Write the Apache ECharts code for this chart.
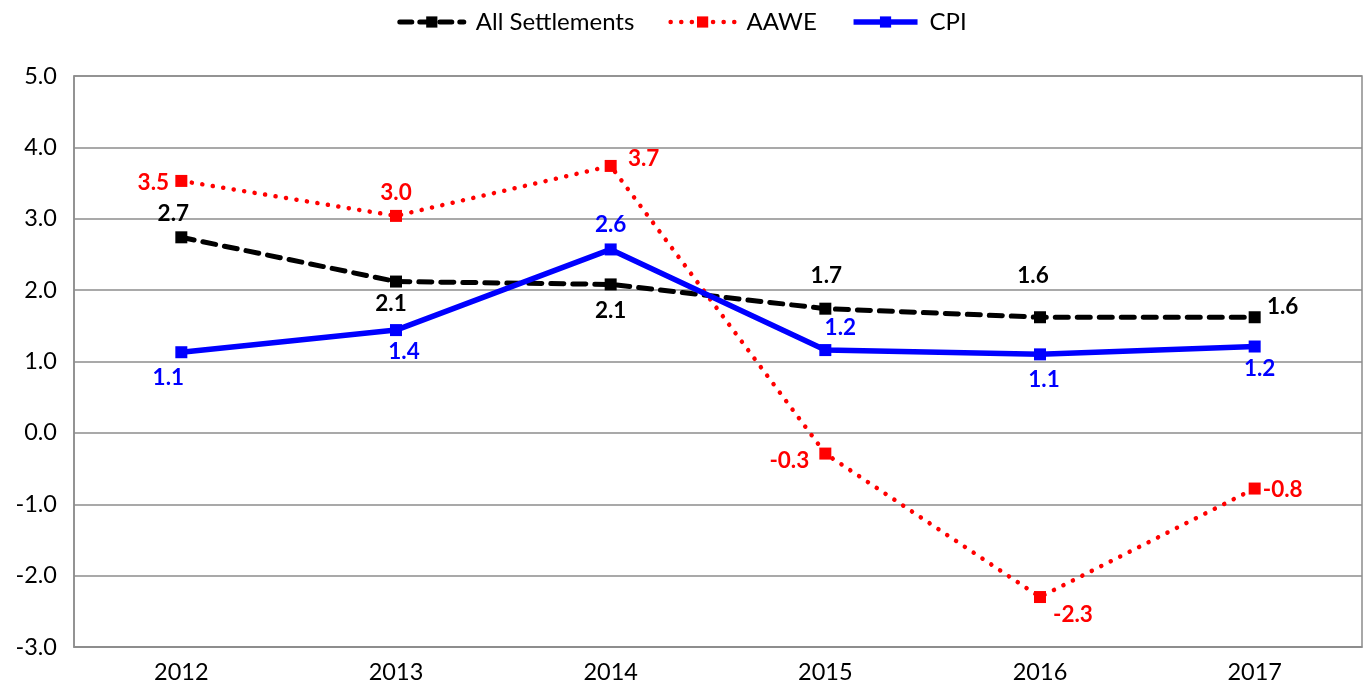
<!DOCTYPE html>
<html><head><meta charset="utf-8">
<script src="https://cdn.jsdelivr.net/npm/echarts@6/dist/echarts.min.js"></script>
<style>html,body{margin:0;padding:0;background:#fff}#c{width:1364px;height:691px}</style>
</head><body><div id="c"></div>
<script>
const categories = ['2012','2013','2014','2015','2016','2017'];
const allSettlements = [2.74, 2.12, 2.08, 1.74, 1.62, 1.62];
const aawe = [3.53, 3.04, 3.74, -0.29, -2.30, -0.78];
const cpi = [1.13, 1.44, 2.57, 1.16, 1.10, 1.21];
const yTicks = {min: -3, max: 5, interval: 1};

// label offsets (px) relative to each point
const allOff = [[-8,-24],[-5,22],[0,26],[1,-33],[-7,-41],[28,-10]];
const aaweOff = [[-28,2],[0,-23],[33,-7],[-36,7],[33,18],[28,1]];
const cpiOff = [[-13,26],[8,22],[0,-25],[15,-22],[4,25],[5,22]];

const FONT = 'Lato, "Open Sans", sans-serif';
function mk(vals, offs){
  return vals.map((v,i)=>({value:v, label:{offset:offs[i]}}));
}
function lbl(color){
  return {show:true, position:'inside', color:color, fontWeight:'bold', fontSize:22.5, fontFamily:FONT,
    formatter:p=>p.value.toFixed(1)};
}
const chart = echarts.init(document.getElementById('c'));
chart.setOption({
  animation:false,
  legend:{top:5, left:'center', itemWidth:64, itemHeight:14, itemGap:34,
    textStyle:{fontSize:24, fontFamily:FONT, color:'#000', padding:[0,0,0,7]},
    data:[
      {name:'All Settlements', lineStyle:{width:5, type:[12,8]}},
      {name:'AAWE', lineStyle:{width:4.5, type:[0.1,10.5], cap:'round'}},
      {name:'CPI', lineStyle:{width:5.5}}
    ]},
  grid:{left:74, right:2, top:76, bottom:44, show:true, borderColor:'#8c8c8c', borderWidth:1.5},
  xAxis:{type:'category', data:categories, boundaryGap:true,
    axisLine:{onZero:false, lineStyle:{color:'#8c8c8c', width:1.5}},
    axisTick:{show:false},
    axisLabel:{fontSize:23.5, fontFamily:FONT, color:'#000', margin:13}},
  yAxis:{type:'value', min:yTicks.min, max:yTicks.max, interval:yTicks.interval,
    axisLine:{show:true, lineStyle:{color:'#8c8c8c', width:1.5}},
    axisTick:{show:false},
    splitLine:{lineStyle:{color:'#8c8c8c', width:1.5}},
    axisLabel:{fontSize:23.5, fontFamily:FONT, color:'#000', margin:17, formatter:v=>v.toFixed(1)}},
  series:[
    {name:'All Settlements', type:'line', data:mk(allSettlements, allOff), symbol:'rect', symbolSize:12,
     itemStyle:{color:'#000'}, lineStyle:{color:'#000', width:5, type:[13,9], cap:'round'},
     label:lbl('#000'), z:3},
    {name:'AAWE', type:'line', data:mk(aawe, aaweOff), symbol:'rect', symbolSize:12,
     itemStyle:{color:'#ff0000'}, lineStyle:{color:'#ff0000', width:4.5, type:[0.1,10.5], cap:'round'},
     label:lbl('#ff0000'), z:2},
    {name:'CPI', type:'line', data:mk(cpi, cpiOff), symbol:'rect', symbolSize:12,
     itemStyle:{color:'#0000ff'}, lineStyle:{color:'#0000ff', width:5.5},
     label:lbl('#0000ff'), z:4}
  ]
});
</script></body></html>
